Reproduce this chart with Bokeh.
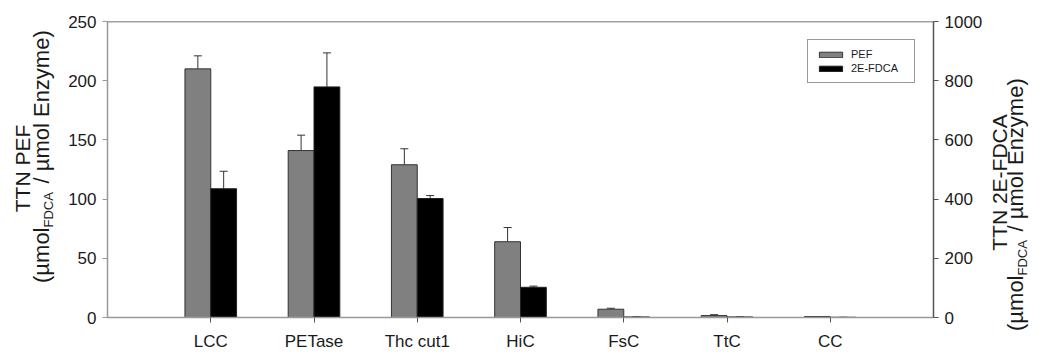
import numpy as np
from bokeh.plotting import figure
from bokeh.layouts import row
from bokeh.models import (Range1d, LinearAxis, FixedTicker, Whisker, ColumnDataSource,
                          Legend, LegendItem, Span, TeeHead)
from bokeh.core.properties import value
from bokeh.transform import dodge
from bokeh.embed import file_html
from bokeh.resources import INLINE

# ---- data ----
categories = ["LCC", "PETase", "Thc cut1", "HiC", "FsC", "TtC", "CC"]
pef = [210, 141, 129, 64, 7.0, 1.6, 0.8]
pef_err = [11, 13, 13.5, 12, 0.8, 0.8, 0.0]
fdca = [435, 779, 402, 102, 2.0, 2.0, 0.8]
fdca_err = [59, 115, 10, 4, 0.0, 0.0, 0.0]
left_ticks = [0, 50, 100, 150, 200, 250]
right_ticks = [0, 200, 400, 600, 800, 1000]
left_title = ["TTN PEF", "(µmol", "FDCA", "/ µmol Enzyme)"]
right_title = ["TTN 2E-FDCA", "(µmol", "FDCA", "/ µmol Enzyme)"]

FONT = "Liberation Sans"
TXT = "#1a1a1a"
H = 353
LW, MW, RW = 60, 925, 54

x = list(range(1, len(categories) + 1))
src = ColumnDataSource(dict(
    x=x,
    pef=pef,
    pef_up=[a + b for a, b in zip(pef, pef_err)],
    fdca=fdca,
    fdca_up=[a + b for a, b in zip(fdca, fdca_err)],
))

p = figure(width=MW, height=H, x_range=Range1d(0, len(categories) + 1),
           y_range=Range1d(0, 250), output_backend="svg", toolbar_location=None,
           min_border_left=47, min_border_right=51, min_border_top=21, min_border_bottom=34)
p.extra_y_ranges = {"r": Range1d(0, 1000)}
p.xgrid.grid_line_color = None
p.ygrid.grid_line_color = None
p.outline_line_color = None

r1 = p.vbar(x=dodge("x", -0.125), top="pef", width=0.25, source=src,
            fill_color="#808080", line_color="#333333", line_width=1)
r2 = p.vbar(x=dodge("x", 0.125), top="fdca", width=0.25, source=src, y_range_name="r",
            fill_color="#000000", line_color="#222222", line_width=1)

w1 = Whisker(base=dodge("x", -0.125), lower="pef", upper="pef_up", source=src,
             line_color="#333333", line_width=1, lower_head=None,
             upper_head=TeeHead(size=8, line_color="#333333", line_width=1))
w2 = Whisker(base=dodge("x", 0.125), lower="fdca", upper="fdca_up", source=src,
             y_range_name="r", line_color="#333333", line_width=1, lower_head=None,
             upper_head=TeeHead(size=8, line_color="#333333", line_width=1))
p.add_layout(w1)
p.add_layout(w2)

xa = p.xaxis[0]
xa.ticker = FixedTicker(ticks=x)
xa.major_label_overrides = {i: c for i, c in zip(x, categories)}
ya = p.yaxis[0]
ya.ticker = FixedTicker(ticks=left_ticks)
ra = LinearAxis(y_range_name="r", ticker=FixedTicker(ticks=right_ticks))
p.add_layout(ra, "right")

for ax, col in ((xa, "#999999"), (ya, "#999999"), (ra, "#555555")):
    ax.axis_line_color = col
    ax.axis_line_width = 1.5
    ax.major_tick_line_color = "#999999" if ax is ya else "#555555"
    ax.major_tick_in = 0
    ax.major_tick_out = 5
    ax.minor_tick_line_color = None
    ax.major_label_text_font = FONT
    ax.major_label_text_font_size = "17px"
    ax.major_label_text_color = TXT
    ax.major_label_standoff = 6
xa.major_label_standoff = 9

p.add_layout(Span(location=250, dimension="width", line_color="#444444", line_width=1.5))

legend = Legend(items=[LegendItem(label="PEF", renderers=[r1]),
                       LegendItem(label="2E-FDCA", renderers=[r2])],
                location=(700, 234), glyph_width=29, glyph_height=7, label_height=12,
                label_width=55, label_standoff=6, spacing=2, padding=8, margin=0,
                border_line_color="#333333", border_line_width=1,
                label_text_font=FONT, label_text_font_size="11px", label_text_color=TXT)
p.add_layout(legend)

# ---- axis titles in side panels (coordinates = page pixels, y from the bottom) ----
L1 = 21     # first title line
MAIN = 22   # second line
SUB = 13    # subscript
SUB_W = 35  # approx. width of the subscript "FDCA" at SUB px
GAP = 9     # space before the slash


def side_fig(width, texts, x1, y1, x2, ysub):
    f = figure(width=width, height=H, x_range=Range1d(0, width), y_range=Range1d(0, H),
               output_backend="svg", toolbar_location=None, min_border=0,
               min_border_top=0, min_border_bottom=0, min_border_left=0, min_border_right=0,
               x_axis_location=None, y_axis_location=None, frame_align=False)
    f.xgrid.grid_line_color = None
    f.ygrid.grid_line_color = None
    f.outline_line_color = None
    common = dict(angle=np.pi / 2, text_baseline="middle", text_font=value(FONT),
                  text_color=TXT)
    f.text(x=[x1], y=[y1], text=[texts[0]], text_align="center",
           text_font_size=value(f"{L1}px"), **common)
    f.text(x=[x2], y=[ysub], text=[texts[1]], text_align="right",
           text_font_size=value(f"{MAIN}px"), **common)
    f.text(x=[x2 + 7], y=[ysub], text=[texts[2]], text_align="left",
           text_font_size=value(f"{SUB}px"), **common)
    f.text(x=[x2], y=[ysub + SUB_W + GAP], text=[texts[3]], text_align="left",
           text_font_size=value(f"{MAIN}px"), **common)
    return f


left = side_fig(LW, left_title, 22, H - 168, 41, H - 227)
right = side_fig(RW, right_title, 14, H - 182, 30, H - 275)

layout = row(left, p, right, spacing=0)
open("out.html", "w").write(file_html(layout, INLINE))
